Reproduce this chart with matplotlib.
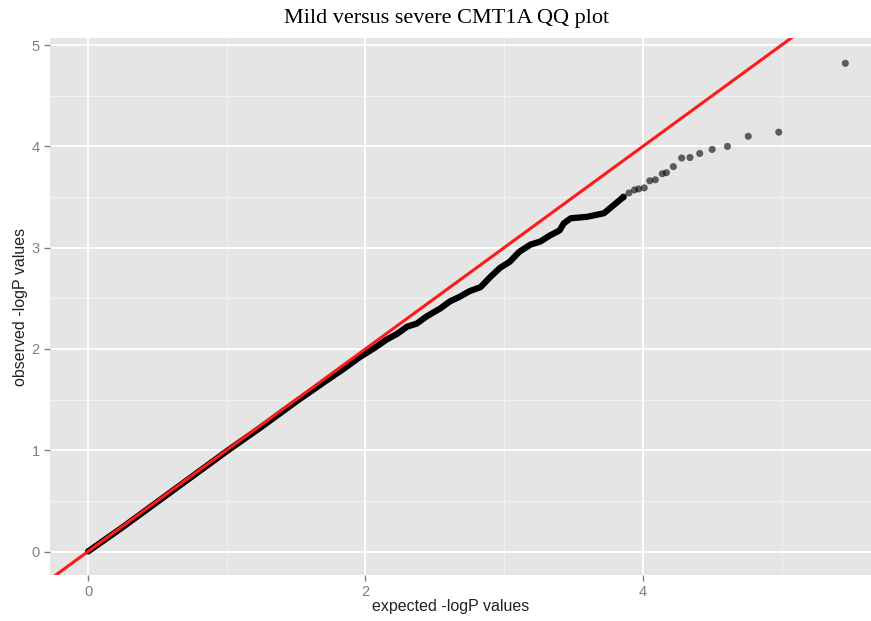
import matplotlib.pyplot as plt
import numpy as np

# observed vs expected -log10(P)
# dense part of the curve (drawn as a thick overlapping band)
dense_expected = [0.0, 0.25, 0.5, 0.75, 1.0, 1.25, 1.5, 1.7, 1.85, 1.96, 2.06,
                  2.15, 2.23, 2.30, 2.37, 2.44, 2.54, 2.61, 2.68, 2.75, 2.83,
                  2.90, 2.97, 3.04, 3.11, 3.19, 3.26, 3.33, 3.40, 3.43, 3.48,
                  3.60, 3.72, 3.79, 3.86]
dense_observed = [0.0, 0.24, 0.49, 0.74, 0.99, 1.23, 1.48, 1.67, 1.81, 1.92, 2.005,
                  2.09, 2.15, 2.22, 2.25, 2.32, 2.40, 2.47, 2.515, 2.57, 2.61,
                  2.71, 2.80, 2.86, 2.96, 3.03, 3.06, 3.12, 3.17, 3.24, 3.29,
                  3.305, 3.34, 3.42, 3.50]

# sparse tail, individual points
tail_expected = [3.86, 3.90, 3.94, 3.97, 4.01, 4.05, 4.09, 4.14, 4.17, 4.22,
                 4.28, 4.34, 4.41, 4.50, 4.61, 4.76, 4.98, 5.46]
tail_observed = [3.50, 3.54, 3.57, 3.58, 3.59, 3.66, 3.67, 3.73, 3.74, 3.80,
                 3.885, 3.89, 3.93, 3.97, 4.00, 4.10, 4.14, 4.82]

x_major = [0, 2, 4]
x_minor = [1, 3, 5]
y_major = [0, 1, 2, 3, 4, 5]
y_minor = [0.5, 1.5, 2.5, 3.5, 4.5]

W, H = 871, 621
fig = plt.figure(figsize=(W / 100, H / 100), dpi=100)
ax = fig.add_axes([50 / W, 46 / H, 1 - 50 / W, 537 / H])
ax.set_facecolor('#E5E5E5')

ax.set_xlim(-0.274, 5.645)
ax.set_ylim(-0.232, 5.07)

for v in x_minor:
  ax.axvline(v, color='#F2F2F2', lw=0.8, zorder=0)
for v in y_minor:
  ax.axhline(v, color='#F2F2F2', lw=0.8, zorder=0)
for v in x_major:
  ax.axvline(v, color='white', lw=1.3, zorder=0)
for v in y_major:
  ax.axhline(v, color='white', lw=1.3, zorder=0)

ax.plot(dense_expected, dense_observed, '-', color='black', lw=4.5,
        solid_capstyle='round', solid_joinstyle='round', zorder=2)
ax.scatter(tail_expected, tail_observed, s=26, color='black', alpha=0.6,
           edgecolors='none', zorder=3)

ax.axline((0, 0), slope=1, color='#FF1A1A', lw=2.2, zorder=4)

ax.set_xticks(x_major)
ax.set_yticks(y_major)
ax.tick_params(colors='#7F7F7F', labelsize=10.5, length=4, width=1)
for lab in ax.get_xticklabels() + ax.get_yticklabels():
  lab.set_family('Liberation Sans')
for s in ax.spines.values():
  s.set_visible(False)

fig.text(447 / W, 1 - 18 / H, 'Mild versus severe CMT1A QQ plot',
         family='Liberation Serif', fontsize=16, ha='center', va='center')
fig.text(451 / W, 1 - 607 / H, 'expected -logP values',
         family='Liberation Sans', fontsize=11.5, color='#222222',
         ha='center', va='center')
fig.text(20 / W, 1 - 307 / H, 'observed -logP values',
         family='Liberation Sans', fontsize=11.5, color='#222222',
         ha='center', va='center', rotation=90)

fig.savefig('out.png', dpi=100)
